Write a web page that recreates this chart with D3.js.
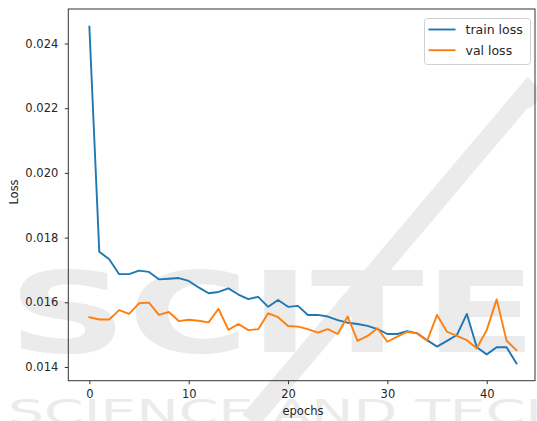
<!DOCTYPE html>
<html><head><meta charset="utf-8">
<script src="https://cdn.jsdelivr.net/npm/d3@7"></script>
<style>html,body{margin:0;padding:0;background:#fff;} svg{display:block;}</style>
</head><body><svg id="chart" width="537" height="421"></svg>
<script>
// Loss per epoch
const trainLoss = [0.02452, 0.01756, 0.01733, 0.01687, 0.01687, 0.01698, 0.01694, 0.01671, 0.01673, 0.01675,
  0.01666, 0.01646, 0.01628, 0.01632, 0.01643, 0.01624, 0.01610, 0.01617, 0.01586, 0.01607,
  0.01586, 0.01589, 0.01561, 0.01561, 0.01556, 0.01545, 0.01537, 0.01533, 0.01527, 0.01517,
  0.01502, 0.01502, 0.01511, 0.01504, 0.01483, 0.01463, 0.01481, 0.01499, 0.01564, 0.01461,
  0.01439, 0.01461, 0.01461, 0.01411];
const valLoss = [0.01554, 0.01547, 0.01547, 0.01576, 0.01564, 0.01597, 0.01599, 0.01561, 0.01570, 0.01542,
  0.01546, 0.01543, 0.01538, 0.01580, 0.01515, 0.01533, 0.01514, 0.01517, 0.01566, 0.01554,
  0.01527, 0.01525, 0.01517, 0.01506, 0.01517, 0.01502, 0.01556, 0.01481, 0.01496, 0.01520,
  0.01478, 0.01494, 0.01509, 0.01504, 0.01481, 0.01561, 0.01509, 0.01496, 0.01483, 0.01458,
  0.01514, 0.01609, 0.01481, 0.01452];
const xTicks = [0, 10, 20, 30, 40];
const yTicks = [0.014, 0.016, 0.018, 0.020, 0.022, 0.024];
const seriesNames = ["train loss", "val loss"];
const seriesColors = ["#1f77b4", "#ff7f0e"];

const svg = d3.select("#chart");
const font = "'DejaVu Sans', sans-serif";
const plot = {left: 68.3, right: 535, top: 9, bottom: 380.7};

const x = d3.scaleLinear().domain([-2.12, 44.86]).range([plot.left, plot.right]);
const y = d3.scaleLinear().domain([0.013577, 0.025066]).range([plot.bottom, plot.top]);

// faint publisher mark in the background
const mark = svg.append("g").attr("fill", "#ebebeb").attr("font-family", font).attr("font-weight", "bold");
mark.append("path")
  .attr("d", "M250,421 L528,92 L537,102")
  .attr("fill", "none").attr("stroke", "#ebebeb").attr("stroke-width", 20);
mark.append("text").attr("x", 8).attr("y", 352).attr("font-size", 112)
  .attr("textLength", 529).attr("lengthAdjust", "spacingAndGlyphs").text("SCITE");
mark.append("text").attr("x", 8).attr("y", 424).attr("font-size", 34)
  .attr("textLength", 560).attr("lengthAdjust", "spacingAndGlyphs").attr("font-weight", "normal")
  .text("SCIENCE AND TECH");

// axes
const xAxis = svg.append("g").attr("transform", `translate(0,${plot.bottom})`)
  .call(d3.axisBottom(x).tickValues(xTicks).tickSize(3.5).tickPadding(5.5).tickFormat(d3.format("d")));
const yAxis = svg.append("g").attr("transform", `translate(${plot.left},0)`)
  .call(d3.axisLeft(y).tickValues(yTicks).tickSize(3.5).tickPadding(6.5).tickFormat(d3.format(".3f")));
[xAxis, yAxis].forEach(g => {
  g.select(".domain").remove();
  g.selectAll("line").attr("stroke", "#333").attr("stroke-width", 1);
  g.selectAll("text").attr("font-family", font).attr("font-size", 11.5).attr("fill", "#262626");
});

// series lines
const line = d3.line().x((d, i) => x(i)).y(d => y(d));
[trainLoss, valLoss].forEach((s, k) => {
  svg.append("path").datum(s).attr("d", line)
    .attr("fill", "none").attr("stroke", seriesColors[k]).attr("stroke-width", 1.9)
    .attr("stroke-linejoin", "round").attr("stroke-linecap", "square");
});

// frame
svg.append("rect").attr("x", plot.left).attr("y", plot.top)
  .attr("width", plot.right - plot.left).attr("height", plot.bottom - plot.top)
  .attr("fill", "none").attr("stroke", "#333").attr("stroke-width", 1);

// axis titles
svg.append("text").attr("x", 303).attr("y", 415).attr("text-anchor", "middle")
  .attr("font-family", font).attr("font-size", 11.5).attr("fill", "#262626").text("epochs");
svg.append("text").attr("transform", "translate(17.5,192) rotate(-90)").attr("text-anchor", "middle")
  .attr("font-family", font).attr("font-size", 11.5).attr("fill", "#262626").text("Loss");

// legend
const lg = svg.append("g");
lg.append("rect").attr("x", 424.5).attr("y", 18.5).attr("width", 106).attr("height", 46).attr("rx", 3)
  .attr("fill", "#fff").attr("fill-opacity", 0.85).attr("stroke", "#d0d0d0").attr("stroke-width", 1);
seriesNames.forEach((name, k) => {
  const cy = 29.5 + k * 20.7;
  lg.append("line").attr("x1", 428.5).attr("x2", 455.5).attr("y1", cy).attr("y2", cy)
    .attr("stroke", seriesColors[k]).attr("stroke-width", 1.9);
  lg.append("text").attr("x", 465.5).attr("y", cy + 4.5)
    .attr("font-family", font).attr("font-size", 12.5).attr("fill", "#262626").text(name);
});
</script></body></html>
